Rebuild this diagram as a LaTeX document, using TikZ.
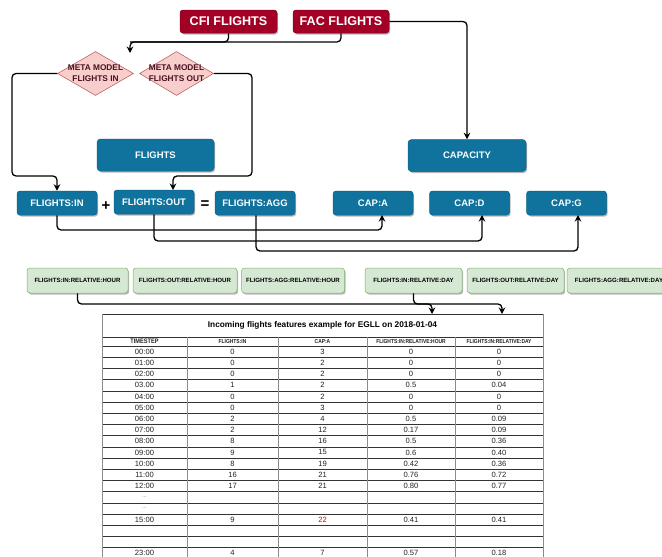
\documentclass[tikz,border=0pt]{standalone}
\usepackage{fontspec}
\setmainfont{Liberation Sans}
\newfontfamily\condf{Liberation Sans}[FakeStretch=0.85]
\usetikzlibrary{shapes.geometric,arrows.meta,shadows}
\definecolor{cred}{HTML}{A20025}
\definecolor{cblue}{HTML}{10739E}
\definecolor{dfill}{HTML}{F8CECC}
\definecolor{dline}{HTML}{B85450}
\definecolor{dtext}{HTML}{4A1020}
\definecolor{gfill}{HTML}{D5E8D4}
\definecolor{gline}{HTML}{82B366}
\definecolor{ink}{HTML}{222222}
\begin{document}
\begin{tikzpicture}[x=1pt,y=-1pt,
  shad/.style={drop shadow={shadow xshift=1.2pt,shadow yshift=-1.5pt,opacity=0.28,fill=black}},
  redbox/.style={rectangle,rounded corners=3pt,fill=cred,draw=cred!85!black,line width=0.5pt,text=white,
    font=\fontsize{12.6}{14}\selectfont\bfseries,inner sep=0pt,minimum height=23pt,shad},
  metad/.style={diamond,draw=dline,fill=dfill,line width=0.5pt,inner sep=0pt,minimum width=76pt,minimum height=44pt},
  mtext/.style={align=center,text=dtext,font=\fontsize{8.3}{11.2}\selectfont\bfseries,inner sep=0pt},
  bluebig/.style={rectangle,rounded corners=3.5pt,fill=cblue,draw=cblue!85!black,line width=0.5pt,text=white,
    font=\fontsize{9.5}{11}\selectfont\bfseries,inner sep=0pt,minimum width=117pt,minimum height=32pt,shad},
  bluesm/.style={rectangle,rounded corners=3pt,fill=cblue,draw=cblue!85!black,line width=0.5pt,text=white,
    font=\fontsize{9.5}{11}\selectfont\bfseries,inner sep=0pt,minimum width=80pt,minimum height=24pt,shad},
  greenbox/.style={rectangle,rounded corners=3pt,fill=gfill,draw=gline,line width=0.5pt,text=black,
    font=\fontsize{6.1}{7}\selectfont\bfseries,inner sep=0pt,minimum height=25pt,shad},
  opsym/.style={inner sep=0pt,font=\fontsize{15}{15}\selectfont\bfseries,text=black},
  arr/.style={-{Stealth[length=6.5pt,width=6.5pt]},line width=1.3pt,rounded corners=4pt},
  con/.style={line width=1.3pt,rounded corners=4pt},
  hline/.style={draw=black!80,line width=0.6pt},
  vline/.style={draw=black!45,line width=0.9pt},
  cell/.style={inner sep=0pt,text=ink,font=\fontsize{7.6}{9}\selectfont},
  hcell/.style={inner sep=0pt,text=ink,font=\condf\fontsize{5.8}{7}\selectfont\bfseries},
  title/.style={inner sep=0pt,text=black,font=\fontsize{8.3}{10}\selectfont\bfseries}
]
\useasboundingbox (0,0) rectangle (662,557);
\fill[white] (0,0) rectangle (662,557);
\clip (0,0) rectangle (662,557);

% top red boxes
\node[redbox,minimum width=97pt] (cfi) at (228.5,21.5) {CFI FLIGHTS};
\node[redbox,minimum width=96pt] (fac) at (341,21.5) {FAC FLIGHTS};

% diamonds
\node[metad] (mi) at (95.5,73.5) {};
\node[mtext] (mit) at (mi) {META MODEL\\FLIGHTS IN};
\node[metad,minimum width=74pt] (mo) at (176.5,73.5) {};
\node[mtext] (mot) at (mo) {META MODEL\\FLIGHTS OUT};

% blue boxes
\node[bluebig] (fl) at (155.5,155) {FLIGHTS};
\node[bluebig,minimum width=118pt] (cap) at (467,155.5) {CAPACITY};
\node[bluesm] (fin) at (57,203) {FLIGHTS:IN};
\node[opsym] (plus) at (106,206) {+};
\node[bluesm] (fout) at (154,202) {FLIGHTS:OUT};
\node[opsym] (eq) at (205,205) {=};
\node[bluesm] (fagg) at (255,203) {FLIGHTS:AGG};
\node[bluesm] (capa) at (373,203) {CAP:A};
\node[bluesm] (capd) at (469.5,203) {CAP:D};
\node[bluesm] (capg) at (566.5,203) {CAP:G};

% green boxes
\node[greenbox,minimum width=101pt] (irh) at (77.5,280.5) {FLIGHTS:IN:RELATIVE:HOUR};
\node[greenbox,minimum width=104pt] (orh) at (185,280.5) {FLIGHTS:OUT:RELATIVE:HOUR};
\node[greenbox,minimum width=103pt] (arh) at (293,280.5) {FLIGHTS:AGG:RELATIVE:HOUR};
\node[greenbox,minimum width=97pt] (ird) at (413.5,280.5) {FLIGHTS:IN:RELATIVE:DAY};
\node[greenbox,minimum width=97pt] (ord) at (515.5,280.5) {FLIGHTS:OUT:RELATIVE:DAY};
\node[greenbox,minimum width=104pt] (ard) at (619,280.5) {FLIGHTS:AGG:RELATIVE:DAY};

% connectors top
\coordinate (j1) at (130,42);
\coordinate (tipa) at (130,53);
\draw[arr] (cfi.south) |- (j1) -- (tipa);
\draw[con] (fac.south) |- (j1);
\draw[arr] (fac.east) -| (cap.north);

\coordinate (l1) at (12,176);
\draw[arr] (mi.west) -| (l1) -| (fin.north);
\coordinate (r1) at (252,176);
\coordinate (tout) at (173,190);
\draw[arr] (mo.east) -| (r1) -| (tout);

\coordinate (ta) at (382,215);
\coordinate (td) at (482,215);
\coordinate (tg) at (578,215);
\coordinate (b1) at (57,230);
\coordinate (b2) at (154,241);
\coordinate (b3) at (256,251);
\draw[arr] (fin.south) -- (b1) -| (ta);
\draw[arr] (fout.south) -- (b2) -| (td);
\draw[arr] (fagg.south -| b3) -- (b3) -| (tg);

% table
\coordinate (tt1) at (432,314);
\coordinate (tt2) at (502,314);
\coordinate (g1) at (77.5,304);
\coordinate (g2) at (413.5,304);
\draw[arr] (irh.south) -- (g1) -| (tt2);
\draw[arr] (ird.south) -- (g2) -| (tt1);

% table grid
\def\rowh{11.2}
\def\hy{346}
\draw[hline] (102,314) -- (543,314);
\draw[hline] (102,337) -- (543,337);
\foreach \k in {0,...,19} {
  \draw[hline] (102,\hy+\rowh*\k) -- (543,\hy+\rowh*\k);
}
\draw[vline] (102,314) -- (102,570);
\draw[vline] (543,314) -- (543,570);
\foreach \xx in {187,278,367,455} {
  \draw[vline] (\xx,337) -- (\xx,570);
}
\node[title] (ttl) at (322.5,325.5) {Incoming flights features example for EGLL on 2018-01-04};
\node[hcell,font=\condf\fontsize{6.6}{8}\selectfont\bfseries] (h1) at (144.5,341.5) {TIMESTEP};
\node[hcell] (h2) at (232.5,341.5) {FLIGHTS:IN};
\node[hcell] (h3) at (322.5,341.5) {CAP:A};
\node[hcell] (h4) at (411,341.5) {FLIGHTS:IN:RELATIVE:HOUR};
\node[hcell] (h5) at (499,341.5) {FLIGHTS:IN:RELATIVE:DAY};

\foreach [count=\i from 0] \ta/\tb/\tc/\td/\te in {
  00:00/0/3/0/0, 01:00/0/2/0/0, 02:00/0/2/0/0, 03.00/1/2/0.5/0.04,
  04:00/0/2/0/0, 05:00/0/3/0/0, 06:00/2/4/0.5/0.09, 07:00/2/12/0.17/0.09,
  08:00/8/16/0.5/0.36, 09:00/9/15/0.6/0.40, 10:00/8/19/0.42/0.36,
  11:00/16/21/0.76/0.72, 12:00/17/21/0.80/0.77,
  {\textcolor{black!55}{\fontsize{5}{6}\selectfont...}}/{}/{}/{}/{},
  {\textcolor{black!55}{\fontsize{5}{6}\selectfont...}}/{}/{}/{}/{},
  15:00/9/{\textcolor{red!85!black}{22}}/0.41/0.41,
  {}/{}/{}/{}/{}, {}/{}/{}/{}/{},
  23:00/4/7/0.57/0.18} {
  \pgfmathsetmacro{\yy}{\hy+\rowh*(\i+0.5)}
  \node[cell] (c\i-1) at (144.5,\yy) {\ta};
  \node[cell] (c\i-2) at (232.5,\yy) {\tb};
  \node[cell] (c\i-3) at (322.5,\yy) {\tc};
  \node[cell] (c\i-4) at (411,\yy) {\td};
  \node[cell] (c\i-5) at (499,\yy) {\te};
}
\end{tikzpicture}
\end{document}
